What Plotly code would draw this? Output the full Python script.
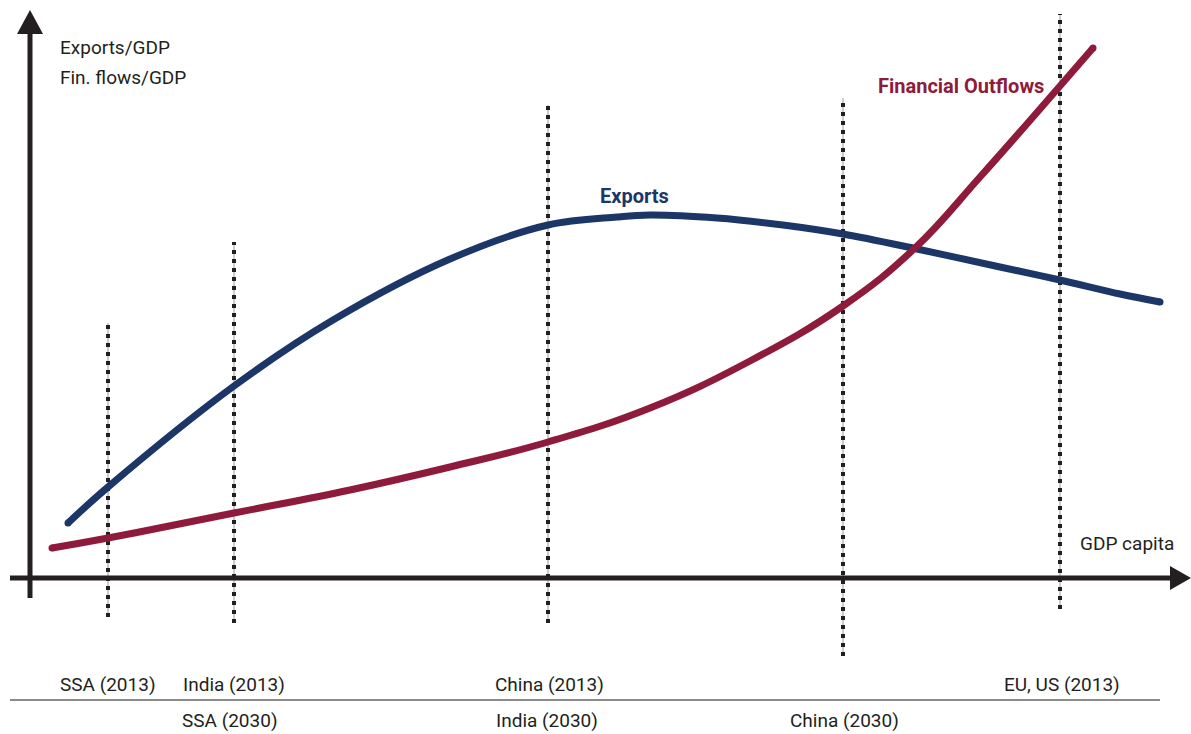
import plotly.graph_objects as go

W, H = 1191, 734

# curve points (x, height above the bottom edge)
exports_x = [68, 108, 234, 333, 450, 548, 617, 650, 717, 783, 843, 917, 1000, 1060, 1120, 1160]
exports_y = [211, 247, 348, 414, 475, 509, 517, 519, 516, 509, 500, 485, 467, 454, 440, 432]

outflows_x = [52, 108, 234, 350, 450, 548, 650, 750, 843, 915, 980, 1040, 1093]
outflows_y = [186, 196, 221, 244, 267, 292, 326, 373, 428, 486, 557, 625, 686]

# dotted markers: x position, top, bottom
marker_x = [108, 234, 548, 843, 1060]
marker_top = [411, 492, 629, 636, 720]
marker_bottom = [117, 111, 111, 78, 125]

row1_labels = ["SSA (2013)", "India (2013)", "China (2013)", "EU, US (2013)"]
row1_x = [108, 234, 549, 1062]
row2_labels = ["SSA (2030)", "India (2030)", "China (2030)"]
row2_x = [230, 547, 844]

BLUE = "#1c3668"
RED = "#8e1b3b"
INK = "#231f20"
FONT = "Roboto"

fig = go.Figure()

# dotted verticals
for x, t, b in zip(marker_x, marker_top, marker_bottom):
    fig.add_trace(go.Scatter(x=[x, x], y=[b, t], mode="lines",
                             line=dict(color="#9a9a9a", width=1), hoverinfo="skip"))
    fig.add_trace(go.Scatter(x=[x, x], y=[b, t], mode="lines",
                             line=dict(color=INK, width=4, dash="4px,5px"), hoverinfo="skip"))

# axes
fig.add_trace(go.Scatter(x=[30, 30], y=[136, 702], mode="lines",
                         line=dict(color=INK, width=5), hoverinfo="skip"))
fig.add_trace(go.Scatter(x=[10, 1175], y=[156, 156], mode="lines",
                         line=dict(color=INK, width=5), hoverinfo="skip"))

# curves
fig.add_trace(go.Scatter(x=exports_x, y=exports_y, mode="lines", line_shape="spline",
                         line=dict(color=BLUE, width=7), hoverinfo="skip"))
fig.add_trace(go.Scatter(x=outflows_x, y=outflows_y, mode="lines", line_shape="spline",
                         line=dict(color=RED, width=7, smoothing=1.2), hoverinfo="skip"))
# round ends
fig.add_trace(go.Scatter(x=[exports_x[0], exports_x[-1]], y=[exports_y[0], exports_y[-1]],
                         mode="markers", marker=dict(color=BLUE, size=7), hoverinfo="skip"))
fig.add_trace(go.Scatter(x=[outflows_x[0], outflows_x[-1]], y=[outflows_y[0], outflows_y[-1]],
                         mode="markers", marker=dict(color=RED, size=7), hoverinfo="skip"))

shapes = [
    # arrowheads
    dict(type="path", path="M 17 700 L 30 724 L 43 700 Z", fillcolor=INK, line=dict(width=0)),
    dict(type="path", path="M 1170 168 L 1191 156 L 1170 144 Z", fillcolor=INK, line=dict(width=0)),
    # separator under first label row
    dict(type="line", x0=10, x1=1160, y0=34, y1=34, line=dict(color="#666666", width=1.5)),
]

ann = [
    dict(x=58, y=687, text="Exports/GDP", xanchor="left"),
    dict(x=58, y=657, text="Fin. flows/GDP", xanchor="left"),
    dict(x=1078, y=191, text="GDP capita", xanchor="left"),
    dict(x=634, y=538, text="<b>Exports</b>", font=dict(color=BLUE, size=20, family=FONT)),
    dict(x=1046, y=648, text="<b>Financial Outflows</b>", xanchor="right",
         font=dict(color=RED, size=20, family=FONT)),
]
for t, x in zip(row1_labels, row1_x):
    ann.append(dict(x=x, y=50, text=t))
for t, x in zip(row2_labels, row2_x):
    ann.append(dict(x=x, y=14, text=t))
for a in ann:
    a.setdefault("xanchor", "center")
    a.setdefault("font", dict(color=INK, size=19, family=FONT))
    a.update(xref="x", yref="y", yanchor="middle", showarrow=False)

fig.update_layout(
    width=W, height=H,
    margin=dict(l=0, r=0, t=0, b=0),
    paper_bgcolor="white", plot_bgcolor="white",
    showlegend=False,
    xaxis=dict(range=[0, W], visible=False, fixedrange=True),
    yaxis=dict(range=[0, H], visible=False, fixedrange=True),
    shapes=shapes,
    annotations=ann,
)

# drop the page's default body margin so the figure sits at the window's corner
fig.write_html("out.html", config={"displayModeBar": False},
               post_script="document.body.style.margin = '0';")
